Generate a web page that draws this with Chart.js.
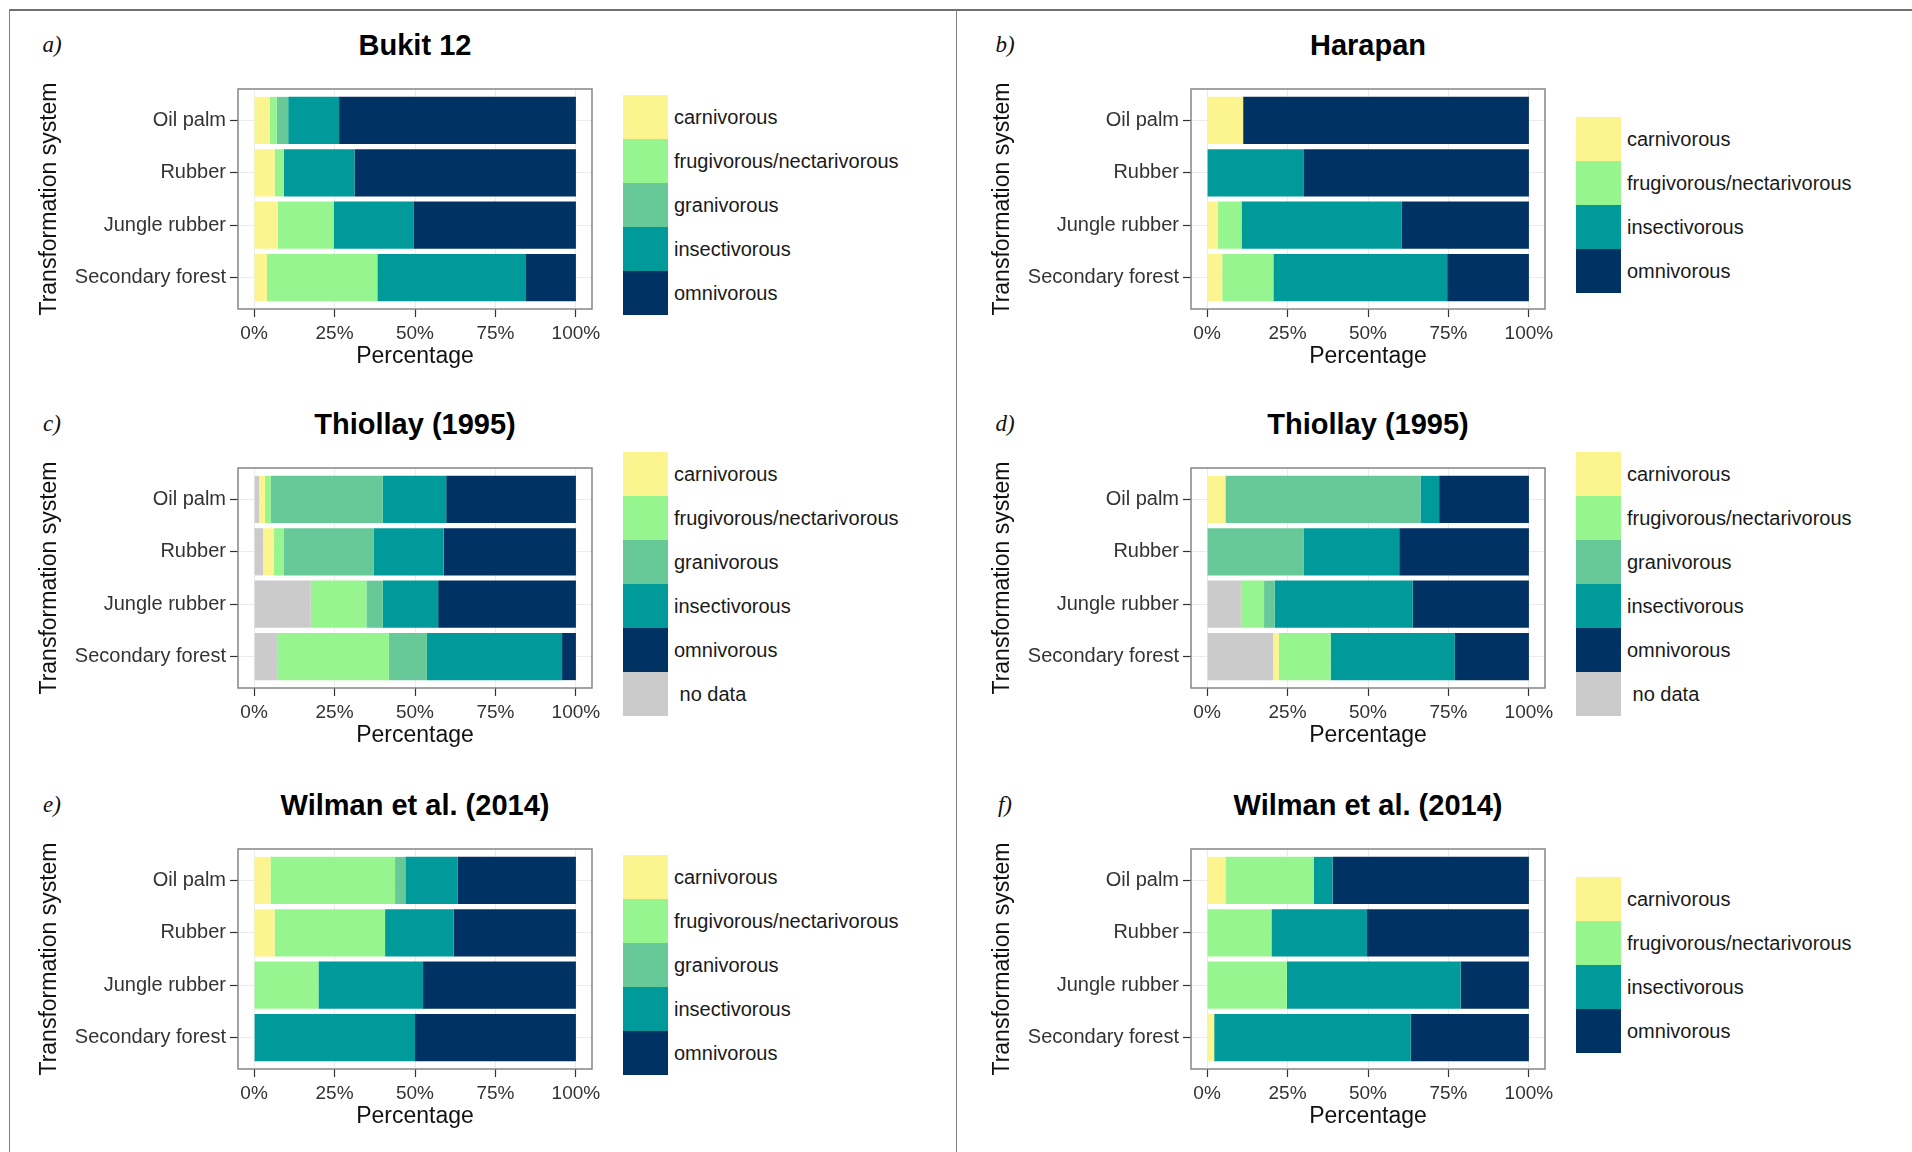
<!DOCTYPE html>
<html>
<head>
<meta charset="utf-8">
<title>Feeding guilds by transformation system</title>
<script src="https://cdn.jsdelivr.net/npm/chart.js@4.4.0/dist/chart.umd.min.js"></script>
<style>
  html, body { margin: 0; padding: 0; background: #fff; }
  body { width: 1912px; height: 1152px; position: relative; overflow: hidden;
         font-family: "Liberation Sans", Arial, sans-serif; }
  .rule { position: absolute; background: #808080; }
  canvas { position: absolute; }
  .letter { position: absolute; transform: translate(-50%, -50%);
            font-family: "Liberation Serif", "Times New Roman", serif; font-style: italic;
            font-size: 23px; color: #111; }
  .title { position: absolute; transform: translate(-50%, -50%); white-space: nowrap;
           font-weight: bold; font-size: 29px; color: #000; }
  .legend { position: absolute; }
  .key { display: flex; align-items: center; height: 44px; }
  .swatch { width: 45px; height: 44px; }
  .key span { margin-left: 6px; font-size: 20px; color: #1a1a1a; white-space: pre; }
</style>
</head>
<body>
<div class="rule" style="left:9px;top:9px;width:1903px;height:2px;background:#6f6f6f"></div>
<div class="rule" style="left:9px;top:9px;width:1px;height:1143px"></div>
<div class="rule" style="left:956px;top:9px;width:1px;height:1143px"></div>

<script>
// categories and axis labels
const systems = ['Oil palm', 'Rubber', 'Jungle rubber', 'Secondary forest'];
const percentTicks = [0, 25, 50, 75, 100];
const percentLabels = ['0%', '25%', '50%', '75%', '100%'];

// a) Bukit 12
const bukitCarnivorous   = [4.9, 6.4, 7.4, 4.0];
const bukitFrugivorous   = [2.1, 2.9, 17.3, 34.3];
const bukitGranivorous   = [3.6, 0, 0, 0];
const bukitInsectivorous = [15.8, 21.9, 24.8, 46.2];
const bukitOmnivorous    = [73.6, 68.8, 50.5, 15.5];

// b) Harapan
const harapanCarnivorous   = [11.2, 0, 3.4, 4.7];
const harapanFrugivorous   = [0, 0, 7.3, 15.9];
const harapanInsectivorous = [0, 30.1, 49.7, 54.0];
const harapanOmnivorous    = [88.8, 69.9, 39.6, 25.4];

// c) Thiollay (1995), Bukit 12 species
const thiollayCNoData        = [1.6, 2.8, 17.6, 7.4];
const thiollayCCarnivorous   = [1.8, 3.4, 0, 0];
const thiollayCFrugivorous   = [1.8, 3.1, 17.3, 34.5];
const thiollayCGranivorous   = [34.8, 27.8, 5.1, 11.8];
const thiollayCInsectivorous = [19.7, 21.8, 17.2, 42.0];
const thiollayCOmnivorous    = [40.3, 41.1, 42.8, 4.3];

// d) Thiollay (1995), Harapan species
const thiollayDNoData        = [0, 0, 10.5, 20.5];
const thiollayDCarnivorous   = [5.7, 0, 0, 1.8];
const thiollayDFrugivorous   = [0, 0, 7.2, 16.1];
const thiollayDGranivorous   = [60.6, 30.1, 3.3, 0];
const thiollayDInsectivorous = [5.8, 29.6, 42.9, 38.6];
const thiollayDOmnivorous    = [27.9, 40.3, 36.1, 23.0];

// e) Wilman et al. (2014), Bukit 12 species
const wilmanECarnivorous   = [5.1, 6.4, 0, 0];
const wilmanEFrugivorous   = [38.7, 34.3, 20.0, 0];
const wilmanEGranivorous   = [3.2, 0, 0, 0];
const wilmanEInsectivorous = [16.2, 21.3, 32.5, 50.0];
const wilmanEOmnivorous    = [36.8, 38.0, 47.5, 50.0];

// f) Wilman et al. (2014), Harapan species
const wilmanFCarnivorous   = [5.7, 0, 0, 2.2];
const wilmanFFrugivorous   = [27.4, 20.0, 24.8, 0];
const wilmanFInsectivorous = [5.9, 29.7, 54.0, 61.1];
const wilmanFOmnivorous    = [61.0, 50.3, 21.2, 36.7];

const guildColors = {
  'carnivorous': '#fcf58f',
  'frugivorous/nectarivorous': '#97f590',
  'granivorous': '#66c997',
  'insectivorous': '#009a9a',
  'omnivorous': '#003263',
  'no data': '#cbcbcb'
};

// each panel: series in legend order ('no data' is stacked first, drawn on the left)
const panels = [
  { letter: 'a)', title: 'Bukit 12', col: 0, row: 0, series: [
    ['carnivorous', bukitCarnivorous], ['frugivorous/nectarivorous', bukitFrugivorous],
    ['granivorous', bukitGranivorous], ['insectivorous', bukitInsectivorous],
    ['omnivorous', bukitOmnivorous]] },
  { letter: 'b)', title: 'Harapan', col: 1, row: 0, series: [
    ['carnivorous', harapanCarnivorous], ['frugivorous/nectarivorous', harapanFrugivorous],
    ['insectivorous', harapanInsectivorous], ['omnivorous', harapanOmnivorous]] },
  { letter: 'c)', title: 'Thiollay (1995)', col: 0, row: 1, series: [
    ['carnivorous', thiollayCCarnivorous], ['frugivorous/nectarivorous', thiollayCFrugivorous],
    ['granivorous', thiollayCGranivorous], ['insectivorous', thiollayCInsectivorous],
    ['omnivorous', thiollayCOmnivorous], ['no data', thiollayCNoData]] },
  { letter: 'd)', title: 'Thiollay (1995)', col: 1, row: 1, series: [
    ['carnivorous', thiollayDCarnivorous], ['frugivorous/nectarivorous', thiollayDFrugivorous],
    ['granivorous', thiollayDGranivorous], ['insectivorous', thiollayDInsectivorous],
    ['omnivorous', thiollayDOmnivorous], ['no data', thiollayDNoData]] },
  { letter: 'e)', title: 'Wilman et al. (2014)', col: 0, row: 2, series: [
    ['carnivorous', wilmanECarnivorous], ['frugivorous/nectarivorous', wilmanEFrugivorous],
    ['granivorous', wilmanEGranivorous], ['insectivorous', wilmanEInsectivorous],
    ['omnivorous', wilmanEOmnivorous]] },
  { letter: 'f)', title: 'Wilman et al. (2014)', col: 1, row: 2, series: [
    ['carnivorous', wilmanFCarnivorous], ['frugivorous/nectarivorous', wilmanFFrugivorous],
    ['insectivorous', wilmanFInsectivorous], ['omnivorous', wilmanFOmnivorous]] }
];

// geometry of the plot boxes
const boxLeft = [238, 1191];
const boxTop = [89, 468, 849];
const boxW = 354, boxH = 220;
const yAxisW = 209, padTop = 16, padRight = 14, xAxisH = 64;
const fontFamily = '"Liberation Sans", Arial, sans-serif';

// grey frame around the plotting area, like ggplot's panel border
const panelBorder = {
  id: 'panelBorder',
  afterDatasetsDraw(chart) {
    const { ctx, chartArea: a } = chart;
    ctx.save();
    ctx.strokeStyle = '#858585';
    ctx.lineWidth = 1.5;
    ctx.strokeRect(a.left, a.top, a.right - a.left, a.bottom - a.top);
    ctx.restore();
  }
};

function addDiv(cls, text, left, top) {
  const d = document.createElement('div');
  d.className = cls;
  d.textContent = text;
  d.style.left = left + 'px';
  d.style.top = top + 'px';
  document.body.appendChild(d);
  return d;
}

panels.forEach(p => {
  const bx = boxLeft[p.col], by = boxTop[p.row];

  addDiv('letter', p.letter, bx - 186, by - 44);
  addDiv('title', p.title, bx + boxW / 2, by - 44);

  // legend: contiguous colour keys, centred a little below the box centre
  const legend = document.createElement('div');
  legend.className = 'legend';
  legend.style.left = (bx + 385) + 'px';
  legend.style.top = (by + boxH / 2 + 6 - p.series.length * 22) + 'px';
  p.series.forEach(([name]) => {
    const key = document.createElement('div');
    key.className = 'key';
    key.innerHTML = '<div class="swatch" style="background:' + guildColors[name] + '"></div><span>' +
      (name === 'no data' ? ' ' + name : name) + '</span>';
    legend.appendChild(key);
  });
  document.body.appendChild(legend);

  const canvas = document.createElement('canvas');
  canvas.width = yAxisW + boxW + padRight;
  canvas.height = padTop + boxH + xAxisH;
  canvas.style.left = (bx - yAxisW) + 'px';
  canvas.style.top = (by - padTop) + 'px';
  document.body.appendChild(canvas);

  // 'no data' goes first in the stack so it sits on the left
  const ordered = p.series.filter(s => s[0] === 'no data').concat(p.series.filter(s => s[0] !== 'no data'));
  const datasets = ordered.map(([name, values]) => ({
    label: name,
    data: values.map((v, i) => ({ x: v, y: i })),
    backgroundColor: guildColors[name],
    borderWidth: 0,
    barPercentage: 0.9,
    categoryPercentage: 1
  }));

  new Chart(canvas, {
    type: 'bar',
    data: { datasets },
    plugins: [panelBorder],
    options: {
      indexAxis: 'y',
      responsive: false,
      animation: false,
      devicePixelRatio: 1,
      layout: { padding: { top: padTop, right: padRight, left: 0, bottom: 0 } },
      plugins: { legend: { display: false }, tooltip: { enabled: false } },
      scales: {
        x: {
          type: 'linear', stacked: true, min: -5, max: 105,
          afterBuildTicks: s => { s.ticks = percentTicks.map(v => ({ value: v })); },
          afterFit: s => { s.height = xAxisH; },
          border: { display: false },
          grid: { color: '#ebebeb', lineWidth: 1, tickColor: '#333', tickLength: 8, tickWidth: 1.2 },
          ticks: { padding: 5, color: '#333', font: { family: fontFamily, size: 19 },
                   maxRotation: 0, callback: v => percentLabels[percentTicks.indexOf(v)] },
          title: { display: true, text: 'Percentage', color: '#111',
                   font: { family: fontFamily, size: 23 }, padding: { top: 0, bottom: 3 } }
        },
        y: {
          type: 'linear', stacked: true, reverse: true, min: -0.6, max: 3.6,
          offset: false,
          afterBuildTicks: s => { s.ticks = systems.map((_, i) => ({ value: i })); },
          afterFit: s => { s.width = yAxisW; },
          border: { display: false },
          grid: { offset: false, color: '#ebebeb', lineWidth: 1, tickColor: '#333', tickLength: 8, tickWidth: 1.2 },
          ticks: { padding: 4, color: '#333', font: { family: fontFamily, size: 20 },
                   callback: v => systems[v] },
          title: { display: true, text: 'Transformation system', color: '#111',
                   font: { family: fontFamily, size: 23 }, padding: { top: 7, bottom: 0 } }
        }
      }
    }
  });
});
</script>
</body>
</html>
